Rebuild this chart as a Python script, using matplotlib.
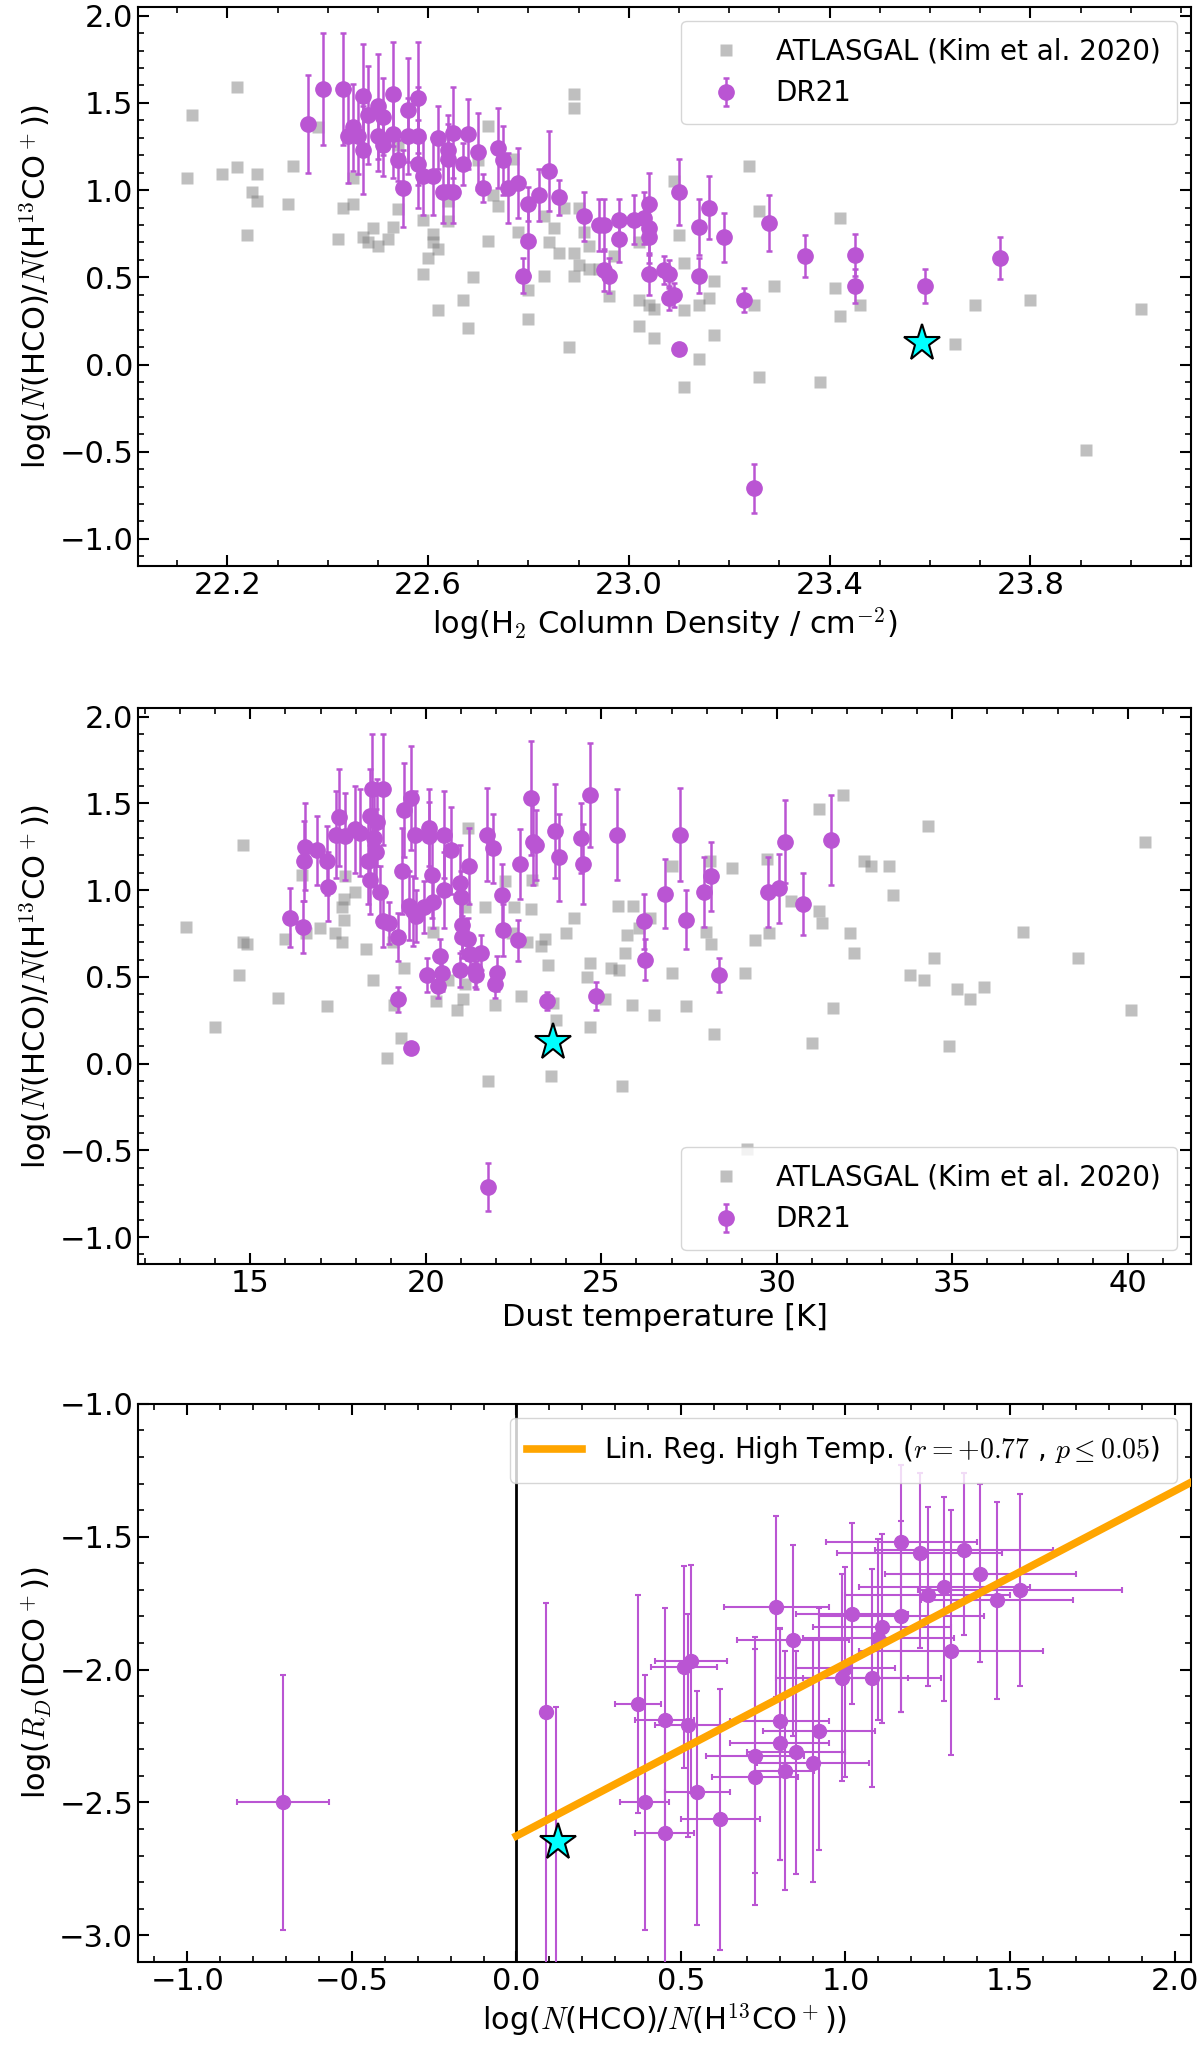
import matplotlib
matplotlib.use("Agg")
import matplotlib.pyplot as plt
import numpy as np
from matplotlib.ticker import MultipleLocator

plt.rcParams["mathtext.fontset"] = "cm"
plt.rcParams["font.family"] = ["DejaVu Sans"]

# ---- ATLASGAL (Kim et al. 2020): column density vs ratio
atl_nh2 = [22.12, 22.13, 22.19, 22.22, 22.22, 22.24, 22.25, 22.26, 22.26, 22.32,
           22.33, 22.38, 22.42, 22.43, 22.45, 22.45, 22.47, 22.48, 22.49, 22.50,
           22.52, 22.53, 22.54, 22.54, 22.59, 22.59, 22.60, 22.61, 22.61, 22.62,
           22.62, 22.64, 22.64, 22.67, 22.68, 22.69, 22.70, 22.72, 22.72, 22.73,
           22.74, 22.77, 22.78, 22.80, 22.80, 22.83, 22.83, 22.84, 22.85, 22.86,
           22.87, 22.88, 22.89, 22.89, 22.89, 22.89, 22.90, 22.90, 22.91, 22.92,
           22.92, 22.94, 22.96, 22.97, 23.02, 23.02, 23.02, 23.04, 23.05, 23.05,
           23.09, 23.10, 23.11, 23.11, 23.11, 23.14, 23.14, 23.14, 23.16, 23.17,
           23.17, 23.24, 23.25, 23.26, 23.26, 23.29, 23.38, 23.41, 23.42, 23.42,
           23.46, 23.65, 23.69, 23.80, 23.91, 24.02]
atl_ratio1 = [1.07, 1.43, 1.09, 1.59, 1.13, 0.74, 0.99, 1.09, 0.94, 0.92,
              1.14, 1.36, 0.72, 0.90, 0.92, 1.07, 0.73, 0.70, 0.78, 0.68,
              0.72, 0.79, 0.89, 1.26, 0.52, 0.83, 0.61, 0.70, 0.75, 0.31,
              0.66, 0.94, 0.82, 0.37, 0.21, 0.50, 1.17, 1.37, 0.71, 0.97,
              0.91, 1.18, 0.76, 0.43, 0.26, 0.85, 0.51, 0.70, 0.78, 0.64,
              0.90, 0.10, 1.55, 0.64, 0.51, 1.47, 0.57, 0.90, 0.76, 0.55,
              0.68, 0.55, 0.39, 0.62, 0.70, 0.37, 0.22, 0.34, 0.15, 0.32,
              1.05, 0.74, 0.58, 0.31, -0.13, 0.51, 0.03, 0.34, 0.38, 0.48,
              0.17, 1.14, 0.34, -0.07, 0.88, 0.45, -0.10, 0.44, 0.28, 0.84,
              0.34, 0.12, 0.34, 0.37, -0.49, 0.32]

# ---- DR21: column density vs ratio
dr_nh2 = [22.36, 22.39, 22.43, 22.44, 22.45, 22.46, 22.47, 22.47, 22.48, 22.50,
          22.50, 22.51, 22.51, 22.53, 22.53, 22.54, 22.55, 22.56, 22.56, 22.58,
          22.58, 22.58, 22.59, 22.61, 22.62, 22.63, 22.64, 22.64, 22.65, 22.65,
          22.67, 22.68, 22.70, 22.71, 22.74, 22.75, 22.76, 22.78, 22.80, 22.80,
          22.79, 22.82, 22.84, 22.86, 22.91, 22.94, 22.95, 22.95, 22.96, 22.98,
          22.98, 23.01, 23.03, 23.04, 23.04, 23.04, 23.04, 23.07, 23.08, 23.08,
          23.09, 23.10, 23.10, 23.14, 23.14, 23.16, 23.19, 23.23, 23.25, 23.28,
          23.35, 23.45, 23.45, 23.59, 23.74]
dr_ratio1 = [1.38, 1.58, 1.58, 1.31, 1.36, 1.31, 1.23, 1.54, 1.43, 1.48,
             1.31, 1.42, 1.26, 1.55, 1.32, 1.17, 1.01, 1.31, 1.46, 1.53,
             1.15, 1.31, 1.08, 1.08, 1.30, 0.99, 1.23, 1.18, 0.99, 1.33,
             1.15, 1.32, 1.22, 1.01, 1.24, 1.17, 1.01, 1.04, 0.92, 0.71,
             0.51, 0.97, 1.11, 0.96, 0.85, 0.80, 0.80, 0.54, 0.51, 0.83,
             0.72, 0.83, 0.84, 0.92, 0.78, 0.73, 0.52, 0.54, 0.38, 0.52,
             0.40, 0.99, 0.09, 0.79, 0.51, 0.90, 0.73, 0.37, -0.71, 0.81,
             0.62, 0.45, 0.63, 0.45, 0.61]
dr_err1 = [0.28, 0.32, 0.32, 0.27, 0.25, 0.22, 0.25, 0.30, 0.28, 0.30,
           0.20, 0.22, 0.18, 0.30, 0.25, 0.12, 0.22, 0.22, 0.30, 0.32,
           0.25, 0.28, 0.22, 0.22, 0.18, 0.18, 0.20, 0.20, 0.18, 0.26,
           0.12, 0.20, 0.22, 0.08, 0.23, 0.20, 0.20, 0.20, 0.10, 0.20,
           0.10, 0.15, 0.23, 0.10, 0.14, 0.15, 0.15, 0.12, 0.10, 0.12,
           0.13, 0.14, 0.15, 0.18, 0.15, 0.15, 0.12, 0.08, 0.07, 0.08,
           0.07, 0.19, 0.00, 0.16, 0.10, 0.18, 0.14, 0.07, 0.14, 0.16,
           0.12, 0.10, 0.12, 0.10, 0.12]

# ---- ATLASGAL: dust temperature vs ratio
atl_tdust = [13.18, 13.98, 14.69, 14.79, 14.79, 14.90, 15.78, 15.98, 16.48, 16.58,
             16.99, 17.19, 17.40, 17.56, 17.60, 17.62, 17.68, 17.68, 17.70, 17.99,
             18.30, 18.50, 18.89, 19.06, 19.10, 19.30, 19.38, 20.21, 20.29, 20.64,
             20.90, 21.07, 21.11, 21.13, 21.19, 21.70, 21.78, 21.97, 22.27, 22.46,
             22.50, 22.70, 22.89, 22.99, 23.03, 23.28, 23.40, 23.48, 23.57, 23.61,
             23.71, 23.98, 24.22, 24.59, 24.67, 24.69, 25.10, 25.29, 25.47, 25.49,
             25.59, 25.68, 25.72, 25.88, 25.90, 26.07, 26.39, 26.50, 27.01, 27.01,
             27.40, 27.99, 28.11, 28.13, 28.20, 28.71, 29.14, 29.10, 29.39, 29.71,
             29.79, 30.41, 31.00, 31.19, 31.21, 31.29, 31.60, 31.89, 32.09, 32.21,
             32.48, 32.68, 33.20, 33.30, 33.79, 34.18, 34.30, 34.49, 34.90, 35.12,
             35.51, 35.90, 37.01, 38.59, 40.10, 40.49]
atl_ratio2 = [0.79, 0.21, 0.51, 1.26, 0.70, 0.69, 0.38, 0.72, 1.09, 0.75,
              0.78, 0.33, 0.75, 1.42, 0.70, 0.90, 0.95, 0.83, 1.08, 0.99,
              0.66, 0.48, 0.03, 0.70, 0.34, 0.15, 0.55, 0.76, 0.36, 0.48,
              0.31, 0.37, 0.46, 0.90, 1.36, 0.90, -0.10, 0.34, 1.05, 0.75,
              0.90, 0.39, 0.70, 0.89, 1.06, 0.68, 0.72, 0.57, -0.07, 0.35,
              0.25, 0.75, 0.84, 0.50, 0.21, 0.58, 0.37, 0.55, 0.91, 0.54,
              -0.13, 0.64, 0.74, 0.34, 0.91, 0.78, 0.84, 0.28, 0.52, 1.14,
              0.33, 0.76, 1.17, 0.69, 0.17, 1.13, -0.49, 0.52, 0.71, 1.18,
              0.75, 0.94, 0.12, 1.47, 0.88, 0.81, 0.32, 1.55, 0.75, 0.64,
              1.17, 1.14, 1.14, 0.97, 0.51, 0.48, 1.37, 0.61, 0.10, 0.43,
              0.37, 0.44, 0.76, 0.61, 0.31, 1.28]

# ---- DR21: dust temperature vs ratio
dr_tdust = [16.13, 16.50, 16.52, 16.56, 16.91, 17.19, 17.21, 17.44, 17.54, 17.70,
            17.97, 18.13, 18.36, 18.40, 18.42, 18.46, 18.52, 18.59, 18.61, 18.69,
            18.79, 18.79, 18.96, 19.20, 19.22, 19.32, 19.38, 19.53, 19.59, 19.59,
            19.63, 19.69, 19.73, 19.96, 20.02, 20.08, 20.08, 20.18, 20.21, 20.35,
            20.39, 20.45, 20.51, 20.53, 20.72, 20.96, 20.96, 21.00, 21.02, 21.04,
            21.19, 21.23, 21.27, 21.39, 21.42, 21.58, 21.74, 21.76, 21.91, 21.97,
            22.03, 22.17, 22.21, 22.62, 22.68, 22.99, 23.05, 23.15, 23.44, 23.69,
            23.79, 24.42, 24.47, 24.67, 24.86, 25.45, 26.21, 26.25, 26.82, 27.25,
            27.41, 27.93, 28.13, 28.36, 29.75, 30.06, 30.24, 30.76, 31.54]
dr_ratio2 = [0.84, 0.79, 1.17, 1.25, 1.23, 1.17, 1.02, 1.32, 1.42, 1.31,
             1.35, 1.33, 1.17, 1.06, 1.43, 1.58, 1.30, 1.22, 1.39, 0.99,
             1.58, 0.82, 0.81, 0.73, 0.37, 1.11, 1.46, 0.91, 1.53, 0.09,
             0.88, 1.32, 0.85, 0.90, 0.51, 1.36, 1.31, 1.09, 0.93, 0.45,
             0.62, 0.52, 1.00, 1.32, 1.23, 1.04, 0.54, 0.96, 0.80, 0.73,
             0.72, 1.14, 0.63, 0.54, 0.51, 0.64, 1.32, -0.71, 1.24, 0.46,
             0.52, 0.97, 0.77, 0.71, 1.15, 1.53, 1.28, 1.26, 0.36, 1.34,
             1.19, 1.30, 1.15, 1.55, 0.39, 1.32, 0.82, 0.60, 0.98, 1.32,
             0.83, 0.99, 1.08, 0.51, 0.99, 1.01, 1.28, 0.92, 1.29]
dr_err2 = [0.17, 0.15, 0.23, 0.25, 0.20, 0.20, 0.20, 0.25, 0.28, 0.25,
           0.25, 0.25, 0.25, 0.20, 0.27, 0.32, 0.25, 0.25, 0.25, 0.15,
           0.32, 0.15, 0.12, 0.14, 0.07, 0.25, 0.27, 0.20, 0.30, 0.00,
           0.20, 0.25, 0.15, 0.15, 0.10, 0.22, 0.20, 0.25, 0.15, 0.07,
           0.10, 0.10, 0.22, 0.25, 0.25, 0.22, 0.10, 0.15, 0.15, 0.12,
           0.12, 0.22, 0.10, 0.10, 0.08, 0.10, 0.27, 0.14, 0.20, 0.08,
           0.10, 0.18, 0.15, 0.12, 0.20, 0.33, 0.25, 0.20, 0.05, 0.27,
           0.25, 0.20, 0.23, 0.30, 0.08, 0.26, 0.16, 0.12, 0.20, 0.27,
           0.17, 0.20, 0.20, 0.10, 0.20, 0.20, 0.24, 0.18, 0.26]

# ---- DR21: ratio vs deuterium fraction R_D(DCO+)
rd_ratio = [-0.71, 0.09, 0.12, 0.37, 0.39, 0.45, 0.45, 0.51, 0.53, 0.52,
            0.55, 0.62, 0.725, 0.725, 0.79, 0.80, 0.80, 0.815, 0.84, 0.85,
            0.90, 0.92, 0.99, 1.02, 1.00, 1.08, 1.10, 1.11, 1.17, 1.17,
            1.225, 1.25, 1.30, 1.32, 1.36, 1.41, 1.46, 1.53]
rd_ratio_err = [0.14, 0.00, 0.00, 0.07, 0.075, 0.09, 0.09, 0.10, 0.11, 0.10,
                0.10, 0.12, 0.15, 0.13, 0.16, 0.15, 0.15, 0.09, 0.17, 0.15,
                0.17, 0.17, 0.20, 0.17, 0.15, 0.21, 0.23, 0.21, 0.23, 0.25,
                0.25, 0.25, 0.26, 0.28, 0.27, 0.29, 0.23, 0.31]
rd_val = [-2.50, -2.16, -2.65, -2.13, -2.50, -2.19, -2.615, -1.99, -1.966, -2.21,
          -2.46, -2.564, -2.327, -2.404, -1.763, -2.195, -2.277, -2.38, -1.89, -2.31,
          -2.35, -2.23, -2.03, -1.79, -1.996, -2.03, -1.88, -1.84, -1.52, -1.80,
          -1.56, -1.72, -1.69, -1.93, -1.55, -1.64, -1.74, -1.70]
rd_err_lo = [0.48, 1.00, 1.00, 0.41, 0.48, 0.42, 0.60, 0.38, 0.50, 0.42,
             0.50, 0.49, 0.44, 0.48, 0.34, 0.52, 0.44, 0.45, 0.36, 0.46,
             0.45, 0.45, 0.39, 0.34, 0.41, 0.41, 0.31, 0.36, 0.64, 0.36,
             0.36, 0.34, 0.43, 0.39, 0.32, 0.33, 0.37, 0.36]
rd_err_hi = [0.48, 0.41, 0.51, 0.41, 0.48, 0.42, 0.42, 0.38, 0.36, 0.42,
             0.38, 0.49, 0.45, 0.48, 0.34, 0.35, 0.43, 0.45, 0.36, 0.38,
             0.46, 0.46, 0.39, 0.34, 0.38, 0.41, 0.37, 0.35, 0.29, 0.36,
             0.30, 0.33, 0.34, 0.53, 0.29, 0.34, 0.37, 0.36]

# highlighted source (star)
star_nh2, star_tdust, star_ratio, star_rd = 23.585, 23.61, 0.125, -2.65

# linear regression (high temperature)
reg_slope, reg_icpt = 0.649, -2.626
reg_x = [0.0, 2.3]

purple = "#BA55D3"
ratio_label = r"log($N$(HCO)/$N$(H$^{13}$CO$^+$))"
fs = 22

fig = plt.figure(figsize=(12, 20.52), dpi=100)
L, W = 0.115, 0.8775
ax1 = fig.add_axes([L, 0.7242, W, 0.2724])
ax2 = fig.add_axes([L, 0.3840, W, 0.2710])
ax3 = fig.add_axes([L, 0.0439, W, 0.2720])


def style(ax, xmaj, xmin, xoff=0.0, ymaj=0.5, ymin=0.1):
    ax.xaxis.set_major_locator(MultipleLocator(xmaj, offset=xoff))
    ax.xaxis.set_minor_locator(MultipleLocator(xmin))
    ax.yaxis.set_major_locator(MultipleLocator(ymaj))
    ax.yaxis.set_minor_locator(MultipleLocator(ymin))
    ax.tick_params(which="both", direction="in", top=True, right=True,
                   labelsize=fs)
    ax.tick_params(which="major", length=8, width=1.5)
    ax.tick_params(which="minor", length=4, width=1.2)
    for s in ax.spines.values():
        s.set_linewidth(1.5)


# panel 1
ax1.plot(atl_nh2, atl_ratio1, "s", color="gray", alpha=0.5, ms=9, mec="none",
         label="ATLASGAL (Kim et al. 2020)", zorder=2)
ax1.errorbar(dr_nh2, dr_ratio1, yerr=dr_err1, fmt="o", color=purple, ms=11,
             elinewidth=1.8, capsize=2.5, capthick=1.8, label="DR21", zorder=3)
ax1.plot(star_nh2, star_ratio, "*", ms=28, mfc="cyan", mec="black", mew=1.5,
         zorder=5)
ax1.set_xlim(22.022, 24.12)
ax1.set_ylim(-1.155, 2.05)
style(ax1, 0.4, 0.1, xoff=0.2)
ax1.set_xlabel(r"log(H$_2$ Column Density / cm$^{-2}$)", fontsize=fs)
ax1.set_ylabel(ratio_label, fontsize=fs)
ax1.legend(loc="upper right", fontsize=20, borderpad=0.6)

# panel 2
ax2.plot(atl_tdust, atl_ratio2, "s", color="gray", alpha=0.5, ms=9, mec="none",
         label="ATLASGAL (Kim et al. 2020)", zorder=2)
ax2.errorbar(dr_tdust, dr_ratio2, yerr=dr_err2, fmt="o", color=purple, ms=11,
             elinewidth=1.8, capsize=2.5, capthick=1.8, label="DR21", zorder=3)
ax2.plot(star_tdust, star_ratio, "*", ms=28, mfc="cyan", mec="black", mew=1.5,
         zorder=5)
ax2.set_xlim(11.8, 41.8)
ax2.set_ylim(-1.155, 2.05)
style(ax2, 5, 1)
ax2.set_xlabel("Dust temperature [K]", fontsize=fs)
ax2.set_ylabel(ratio_label, fontsize=fs)
ax2.legend(loc="lower right", fontsize=20, borderpad=0.6)

# panel 3
ax3.axvline(0, color="black", lw=2, zorder=1)
ax3.errorbar(rd_ratio, rd_val, xerr=rd_ratio_err, yerr=[rd_err_lo, rd_err_hi],
             fmt="o", color=purple, ms=10, elinewidth=1.5, capsize=2,
             capthick=1.5, zorder=3)
reg_y = [reg_icpt + reg_slope * v for v in reg_x]
ax3.plot(reg_x, reg_y, color="orange", lw=5.5, zorder=4,
         label=r"Lin. Reg. High Temp. ($r=+0.77$ , $p\leq0.05$)")
ax3.plot(star_ratio, star_rd, "*", ms=28, mfc="cyan", mec="black", mew=1.5,
         zorder=5)
ax3.set_xlim(-1.15, 2.05)
ax3.set_ylim(-3.1, -1.0)
style(ax3, 0.5, 0.1)
ax3.set_xlabel(ratio_label, fontsize=fs)
ax3.set_ylabel(r"log($R_D$(DCO$^+$))", fontsize=fs)
ax3.legend(loc="upper right", fontsize=20, borderpad=0.6)

fig.savefig("out.png", dpi=100)
